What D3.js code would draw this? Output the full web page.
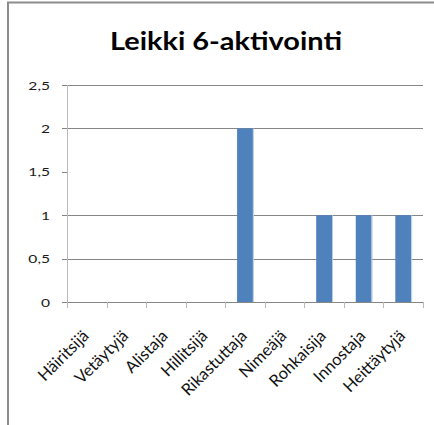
<!DOCTYPE html>
<html>
<head>
<meta charset="utf-8">
<script src="https://cdn.jsdelivr.net/npm/d3@7"></script>
<style>
  body { margin: 0; background: #fff; }
  svg { display: block; font-family: Lato, "Open Sans", sans-serif; }
  .grid line { stroke: #868686; stroke-width: 1; }
  .ylab { font-size: 12px; fill: #1a1a1a; }
  .xlab { font-size: 16.5px; fill: #111; }
</style>
</head>
<body>
<svg width="434" height="425"></svg>
<script>
(function() {
  var categories = ['Häiritsijä', 'Vetäytyjä', 'Alistaja', 'Hillitsijä', 'Rikastuttaja',
                    'Nimeäjä', 'Rohkaisija', 'Innostaja', 'Heittäytyjä'];
  var values = [0, 0, 0, 0, 2, 0, 1, 1, 1];
  var yTicks = [0, 0.5, 1, 1.5, 2, 2.5];
  var yTickLabels = ['0', '0,5', '1', '1,5', '2', '2,5'];
  // the original has no gridline at 1,5
  var gridTicks = [0, 0.5, 1, 2, 2.5];

  var svg = d3.select('svg');
  var left = 67, right = 423, top = 85, bottom = 302;

  // outer frame (only top and left edges are visible in the picture)
  svg.append('rect').attr('x', 8).attr('y', 2.5).attr('width', 440).attr('height', 440)
    .attr('fill', 'none').attr('stroke', '#8c8c8c').attr('stroke-width', 2);

  // the picture is stretched sideways, so the title is stretched to its width
  svg.append('text').attr('x', 110).attr('y', 50)
    .attr('textLength', 232).attr('lengthAdjust', 'spacingAndGlyphs')
    .style('font-size', '24.5px').style('font-weight', 'bold').attr('fill', '#000')
    .text('Leikki 6-aktivointi');

  var x = d3.scaleBand().domain(categories).range([left, right]).paddingInner(0.6).paddingOuter(0.3);
  var xTicks = d3.scaleBand().domain(categories).range([left, right]);
  var y = d3.scaleLinear().domain([0, 2.5]).range([bottom, top]);

  var grid = svg.append('g').attr('class', 'grid');
  grid.selectAll('line').data(gridTicks).enter().append('line')
    .attr('x1', left - 5).attr('x2', right)
    .attr('y1', function(d) { return Math.round(y(d)) + 0.5; })
    .attr('y2', function(d) { return Math.round(y(d)) + 0.5; });
  // tick for 1,5 (outward part only)
  grid.append('line').attr('x1', left - 5).attr('x2', left)
    .attr('y1', Math.round(y(1.5)) + 0.5).attr('y2', Math.round(y(1.5)) + 0.5);

  // y axis line
  svg.append('line').attr('x1', left + 0.5).attr('x2', left + 0.5)
    .attr('y1', top).attr('y2', bottom + 5).attr('stroke', '#b8b8b8');

  // x tick marks at category boundaries
  var bounds = categories.map(function(c) { return xTicks(c); }).concat([right]);
  svg.append('g').selectAll('line').data(bounds).enter().append('line')
    .attr('x1', function(d) { return Math.round(d) + 0.5; })
    .attr('x2', function(d) { return Math.round(d) + 0.5; })
    .attr('y1', bottom).attr('y2', bottom + 6).attr('stroke', '#b8b8b8');

  svg.append('g').selectAll('text').data(yTicks).enter().append('text')
    .attr('class', 'ylab')
    .attr('transform', function(d) { return 'translate(50,' + (y(d) + 4.5) + ') scale(1.3,1)'; })
    .attr('text-anchor', 'end')
    .text(function(d, i) { return yTickLabels[i]; });

  var bars = svg.append('g').selectAll('g').data(values).enter().append('g');
  bars.append('rect')
    .attr('x', function(d, i) { return x(categories[i]); })
    .attr('y', function(d) { return y(d); })
    .attr('width', x.bandwidth())
    .attr('height', function(d) { return y(0) - y(d); })
    .attr('fill', '#4f81bd');
  bars.append('rect')
    .attr('x', function(d, i) { return x(categories[i]) + x.bandwidth(); })
    .attr('y', function(d) { return y(d); })
    .attr('width', 1)
    .attr('height', function(d) { return y(0) - y(d); })
    .attr('fill', '#b9cde5');

  svg.append('g').selectAll('text').data(categories).enter().append('text')
    .attr('class', 'xlab')
    .attr('transform', function(d) {
      var cx = xTicks(d) + xTicks.bandwidth() / 2 + 3;
      return 'translate(' + cx + ',' + (bottom + 35) + ') rotate(-45)';
    })
    .attr('text-anchor', 'end')
    .text(function(d) { return d; });
})();
</script>
</body>
</html>
